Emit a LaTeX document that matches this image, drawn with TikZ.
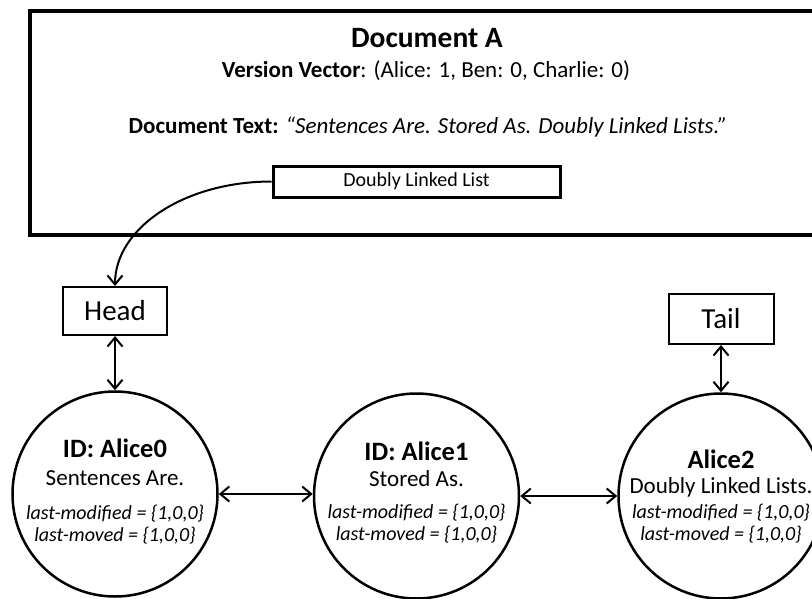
\documentclass[tikz,border=0pt]{standalone}
\usepackage{fontspec}
\setmainfont{Carlito}
\usetikzlibrary{arrows.meta}
\newcommand{\fs}[1]{\fontsize{#1}{#1}\selectfont}
\tikzset{
  circnode/.style={circle,draw,line width=2.5pt,minimum size=205pt,inner sep=0pt},
  endbox/.style={rectangle,draw,line width=2pt,inner sep=0pt,font=\fs{29}},
  txt/.style={anchor=base,inner sep=0pt},
  link/.style={line width=2pt,{Straight Barb[length=9pt,width=15pt]}-{Straight Barb[length=9pt,width=15pt]}},
  onelink/.style={line width=2pt,-{Straight Barb[length=9pt,width=15pt]}},
}
\begin{document}
\begin{tikzpicture}[x=1pt,y=-1pt]
\useasboundingbox (0,0) rectangle (812,598);
\clip (0,0) rectangle (812,598);
\fill[white] (0,0) rectangle (812,598);
% document box
\node[draw,line width=3.5pt,rectangle,minimum width=802pt,minimum height=224pt,inner sep=0pt,anchor=north west] (doc) at (28,9) {};
\node[txt,font=\fs{29.5}\bfseries] (title) at (427,47) {Document A};
\node[txt,font=\fs{23}] (vv) at (426,77) {\textbf{Version Vector}: (Alice: 1, Ben: 0, Charlie: 0)};
\node[txt,font=\fs{23}] (dt) at (428,133) {\textbf{Document Text:} \textit{“Sentences Are. Stored As. Doubly Linked Lists.”}};
\node[draw,line width=3pt,rectangle,minimum width=287pt,minimum height=31pt,inner sep=0pt,font=\fs{20}] (dll) at (416.5,181.5) {Doubly Linked List};
% head / tail
\node[endbox,minimum width=104pt,minimum height=48pt] (head) at (115,311) {Head};
\node[endbox,minimum width=105pt,minimum height=50pt] (tail) at (721,319) {Tail};
% circles
\node[circnode] (a0) at (115,494) {};
\node[circnode] (a1) at (416.5,496) {};
\node[circnode] (a2) at (721,496) {};
% circle texts
\node[txt,font=\fs{26.5}\bfseries] (a0id) at (115,457) {ID: Alice0};
\node[txt,font=\fs{23}] (a0t) at (115,485) {Sentences Are.};
\node[txt,font=\fs{20}\itshape] (a0m) at (115,519) {last-modified = \{1,0,0\}};
\node[txt,font=\fs{20}\itshape] (a0v) at (115,541) {last-moved = \{1,0,0\}};
\node[txt,font=\fs{26.5}\bfseries] (a1id) at (416.5,460) {ID: Alice1};
\node[txt,font=\fs{23}] (a1t) at (416.5,486) {Stored As.};
\node[txt,font=\fs{20}\itshape] (a1m) at (416.5,518) {last-modified = \{1,0,0\}};
\node[txt,font=\fs{20}\itshape] (a1v) at (416.5,540) {last-moved = \{1,0,0\}};
\node[txt,font=\fs{26.5}\bfseries] (a2id) at (721,468) {Alice2};
\node[txt,font=\fs{23}] (a2t) at (721,493) {Doubly Linked Lists.};
\node[txt,font=\fs{20}\itshape] (a2m) at (721,518) {last-modified = \{1,0,0\}};
\node[txt,font=\fs{20}\itshape] (a2v) at (721,540) {last-moved = \{1,0,0\}};
% connectors
\draw[onelink] (dll.west) .. controls +(-87,0) and +(0,-58) .. (head.north);
\draw[link] (head.south) -- (a0.north);
\draw[link] (tail.south) -- (a2.north);
\draw[link] (a0.east) -- (a0.east -| a1.west);
\draw[link] (a1.east) -- (a2.west);
\end{tikzpicture}
\end{document}
